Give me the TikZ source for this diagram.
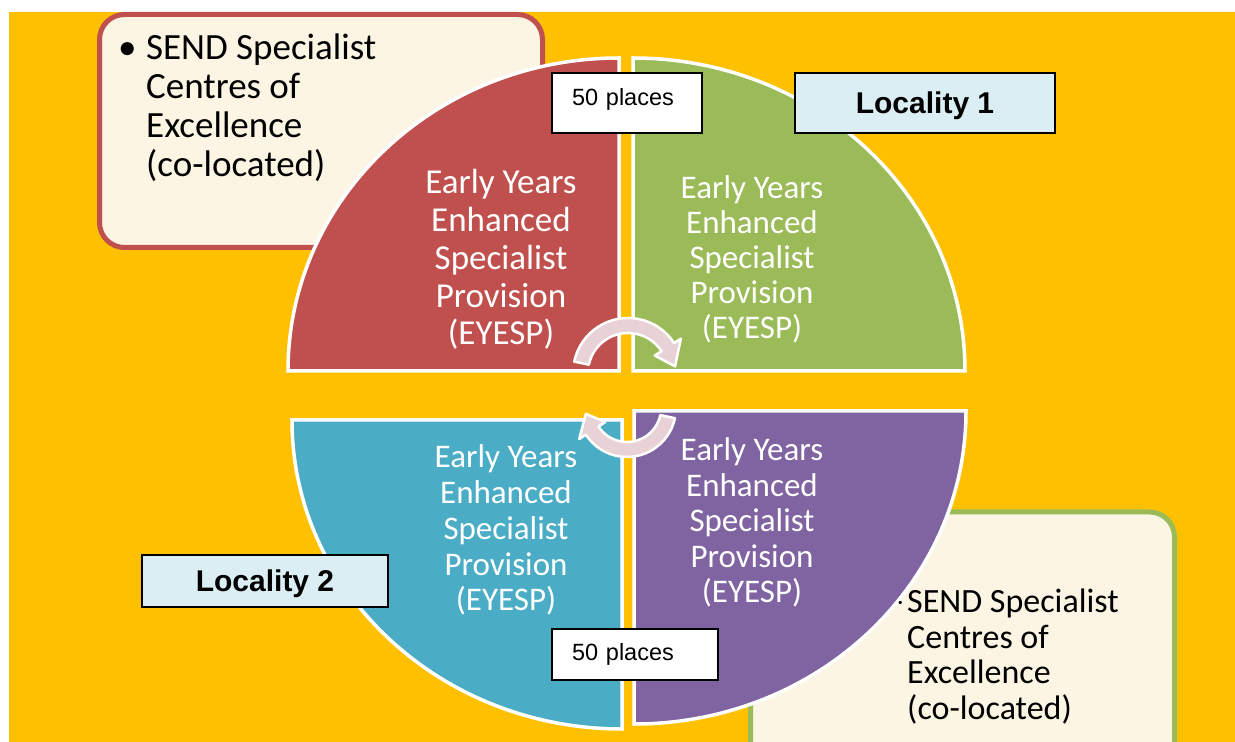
\documentclass[tikz,border=0pt]{standalone}
\usepackage{fontspec}
\setmainfont{Carlito}
\newfontfamily\arialfont{Liberation Sans}
\usetikzlibrary{calc,positioning}
\definecolor{bgorange}{RGB}{255,192,0}
\definecolor{quadred}{RGB}{192,80,77}
\definecolor{quadgreen}{RGB}{155,187,89}
\definecolor{quadteal}{RGB}{75,172,198}
\definecolor{quadpurple}{RGB}{128,100,162}
\definecolor{creamfill}{RGB}{252,245,227}
\definecolor{locblue}{RGB}{218,238,243}
\definecolor{cyclepink}{RGB}{232,210,213}

\begin{document}
\begin{tikzpicture}[x=1pt, y=1pt,
        sendbox/.style={draw, line width=5pt, rounded corners=25pt, fill=creamfill},
        quad/.style={draw=white, line width=3.5pt},
        quadtext/.style={anchor=base, inner sep=0pt, text=white},
        sendtext/.style={anchor=base west, inner sep=0pt, text=black},
        placebox/.style={draw=black, line width=1.2pt, fill=white, inner xsep=20pt, inner ysep=0pt, align=left, font=\arialfont\fontsize{23.5}{26}\selectfont},
        locbox/.style={draw=black, line width=1.2pt, fill=locblue, inner sep=0pt, text depth=0pt, font=\arialfont\bfseries\fontsize{30}{33}\selectfont},
        cycarrow/.style={draw=white, line width=2.5pt, fill=cyclepink, line join=round}
    ]
        \useasboundingbox (0,0) rectangle (1235,742);
        \fill[bgorange] (9,0) rectangle (1235,730);

        % SEND boxes
        \node[sendbox, draw=quadred, minimum width=443, minimum height=233] (send1) at (321,611) {};
        \node[sendbox, draw=quadgreen, minimum width=424, minimum height=258] (send2) at (962.5,101) {};

        % Quadrants
        \coordinate (cred) at (619,371);
        \coordinate (cgreen) at (633,371);
        \coordinate (cteal) at (622,322);
        \coordinate (cpurple) at (634,331);
        \draw[quad, fill=quadred] (cred) -- ++(-331,0) arc[start angle=180, end angle=90, x radius=331, y radius=313] -- cycle;
        \draw[quad, fill=quadgreen] (cgreen) -- ++(0,313) arc[start angle=90, end angle=0, x radius=332, y radius=313] -- cycle;
        \draw[quad, fill=quadteal] (cteal) -- ++(-330,0) arc[start angle=180, end angle=270, x radius=330, y radius=309] -- cycle;
        \draw[quad, fill=quadpurple] (cpurple) -- ++(332,0) arc[start angle=0, end angle=-90, x radius=332, y radius=313] -- cycle;

        % Quadrant texts
        \node[quadtext, font=\fontsize{35}{37.7}\selectfont] (tred) at (501,548) {\begin{tabular}[t]{@{}c@{}}Early Years\\Enhanced\\Specialist\\Provision\\(EYESP)\end{tabular}};
        \node[quadtext, font=\fontsize{33}{34.8}\selectfont] (tgreen) at (752,543) {\begin{tabular}[t]{@{}c@{}}Early Years\\Enhanced\\Specialist\\Provision\\(EYESP)\end{tabular}};
        \node[quadtext, font=\fontsize{33}{35.7}\selectfont] (tteal) at (506,274) {\begin{tabular}[t]{@{}c@{}}Early Years\\Enhanced\\Specialist\\Provision\\(EYESP)\end{tabular}};
        \node[quadtext, font=\fontsize{33}{35.5}\selectfont] (tpurple) at (752,281) {\begin{tabular}[t]{@{}c@{}}Early Years\\Enhanced\\Specialist\\Provision\\(EYESP)\end{tabular}};

        % SEND texts
        \node[sendtext, font=\fontsize{37}{39}\selectfont] (sendtext1) at (118,682) {\begin{tabular}[t]{@{}l@{}l@{}}\makebox[28pt][l]{\textbullet}&SEND Specialist\\&Centres of\\&Excellence\\&(co-located)\end{tabular}};
        \node[sendtext, font=\fontsize{34}{35.5}\selectfont] (sendtext2) at (898,129) {\begin{tabular}[t]{@{}l@{}l@{}}\makebox[9pt][l]{\raisebox{7pt}{\fontsize{9}{9}\selectfont\textbullet}}&SEND Specialist\\&Centres of\\&Excellence\\&(co-located)\end{tabular}};

        % Cycle arrows
        \coordinate (ctop) at (628,369);
        \coordinate (cbot) at (627,334);
        \draw[cycarrow] ($(ctop)+(168:55)$) arc[start angle=168, end angle=33, radius=55] -- ($(ctop)+(33:63)$) -- ($(ctop)+(8:47.5)$) -- ($(ctop)+(33:32)$) -- ($(ctop)+(33:40)$) arc[start angle=33, end angle=168, radius=40] -- cycle;
        \draw[cycarrow] ($(cbot)+(-12:49)$) arc[start angle=-12, end angle=-147, radius=49] -- ($(cbot)+(-147:57)$) -- ($(cbot)+(-172:41.5)$) -- ($(cbot)+(-147:26)$) -- ($(cbot)+(-147:34)$) arc[start angle=-147, end angle=-12, radius=34] -- cycle;

        % Labels
        \node[placebox, text width=110, minimum height=60, text depth=13pt] (places1) at (627,639) {50 places};
        \node[placebox, text width=126, minimum height=51] (places2) at (635,87.5) {50 places};
        \node[locbox, minimum width=260, minimum height=60] (loc1) at (925,639) {Locality 1};
        \node[locbox, minimum width=246, minimum height=52] (loc2) at (265,161) {Locality 2};
    \end{tikzpicture}
\end{document}
